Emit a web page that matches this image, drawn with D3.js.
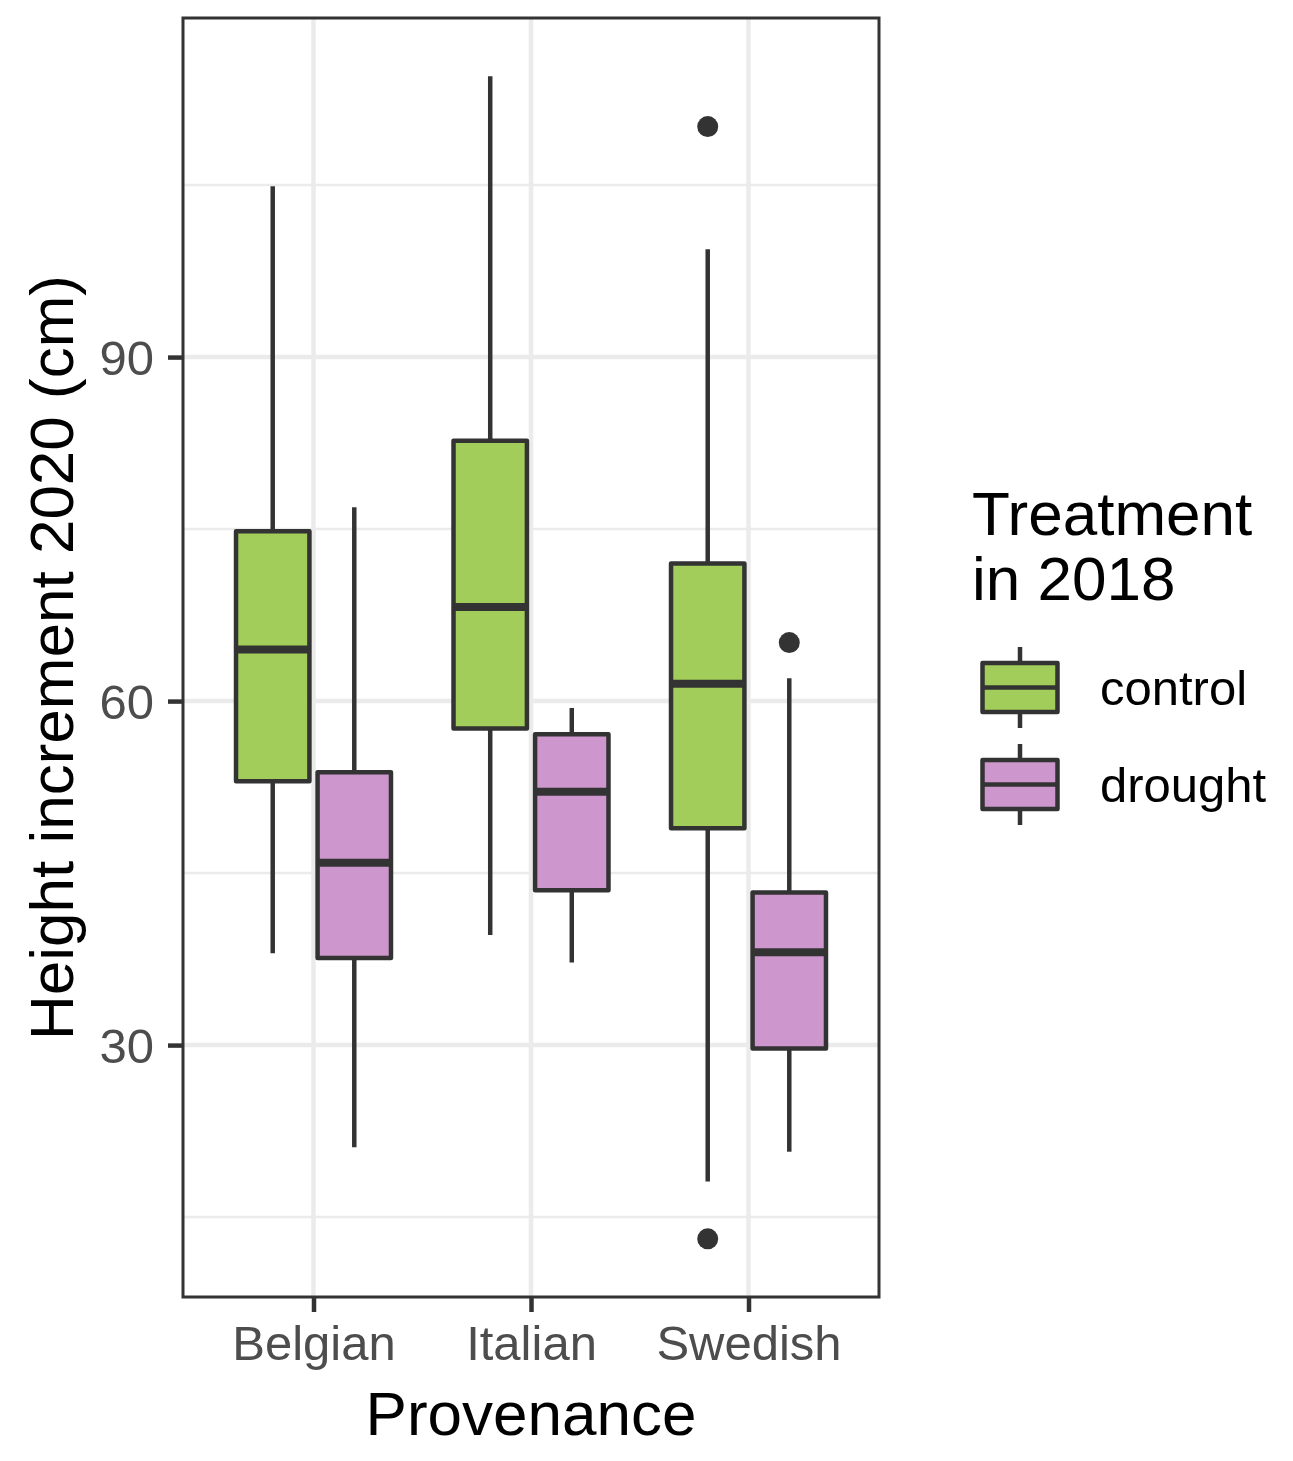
<!DOCTYPE html>
<html>
<head>
<meta charset="utf-8">
<script src="https://cdn.jsdelivr.net/npm/d3@7"></script>
<style>
  body { margin: 0; background: #fff; }
  text { font-family: "Liberation Sans", Arial, sans-serif; }
</style>
</head>
<body>
<div id="chart"></div>
<script>
// Data
var provenances = ["Belgian", "Italian", "Swedish"];
var treatments = ["control", "drought"];

// one entry per box, in order Belgian control, Belgian drought, Italian control ...
var boxProv   = ["Belgian", "Belgian", "Italian", "Italian", "Swedish", "Swedish"];
var boxTreat  = ["control", "drought", "control", "drought", "control", "drought"];
var whiskLow  = [38.0, 21.1, 39.6, 37.2, 18.1, 20.7];
var q1        = [53.0, 37.6, 57.6, 43.5, 48.9, 29.7];
var medians   = [64.5, 45.9, 68.2, 52.1, 61.5, 38.1];
var q3        = [74.8, 53.8, 82.7, 57.1, 72.0, 43.3];
var whiskHigh = [104.9, 76.9, 114.5, 59.4, 99.4, 62.0];

var outlierProv  = ["Swedish", "Swedish", "Swedish"];
var outlierTreat = ["control", "control", "drought"];
var outlierVal   = [110.1, 13.1, 65.1];

var yMajor = [30, 60, 90];
var yMinor = [15, 45, 75, 105];

var fillColors = ["#A2CD5A", "#CD96CD"];

// Layout
var svgWidth = 1293;
var svgHeight = 1461;
var panel = { left: 183, right: 879, top: 18, bottom: 1297 };
var ink = "#333333";

var svg = d3.select("#chart")
  .append("svg")
  .attr("width", svgWidth)
  .attr("height", svgHeight);

// Scales
var allVals = whiskLow.concat(whiskHigh, outlierVal);
var lo = d3.min(allVals), hi = d3.max(allVals);
var pad = (hi - lo) * 0.05;

var yScale = d3.scaleLinear()
  .domain([lo - pad, hi + pad])
  .range([panel.bottom, panel.top]);

var xScale = d3.scalePoint()
  .domain(provenances)
  .range([panel.left, panel.right])
  .padding(0.6);

var step = xScale.step();
var dodge = d3.scaleOrdinal().domain(treatments).range([-0.1875 * step, 0.1875 * step]);
var boxW = 0.3375 * step;
var color = d3.scaleOrdinal().domain(treatments).range(fillColors);

function cx(p, t) { return xScale(p) + dodge(t); }

// Grid
var grid = svg.append("g");
grid.selectAll(".minor")
  .data(yMinor)
  .enter()
  .append("line")
  .attr("x1", panel.left).attr("x2", panel.right)
  .attr("y1", d => yScale(d)).attr("y2", d => yScale(d))
  .attr("stroke", "#EBEBEB")
  .attr("stroke-width", 2.5);

grid.selectAll(".major")
  .data(yMajor)
  .enter()
  .append("line")
  .attr("x1", panel.left).attr("x2", panel.right)
  .attr("y1", d => yScale(d)).attr("y2", d => yScale(d))
  .attr("stroke", "#EBEBEB")
  .attr("stroke-width", 4.5);

grid.selectAll(".vmajor")
  .data(provenances)
  .enter()
  .append("line")
  .attr("y1", panel.top).attr("y2", panel.bottom)
  .attr("x1", d => xScale(d)).attr("x2", d => xScale(d))
  .attr("stroke", "#EBEBEB")
  .attr("stroke-width", 4.5);

// Boxes
var idx = d3.range(boxProv.length);
var boxes = svg.append("g");

boxes.selectAll(".whisk-up")
  .data(idx)
  .enter()
  .append("line")
  .attr("x1", i => cx(boxProv[i], boxTreat[i]))
  .attr("x2", i => cx(boxProv[i], boxTreat[i]))
  .attr("y1", i => yScale(q3[i]))
  .attr("y2", i => yScale(whiskHigh[i]))
  .attr("stroke", ink)
  .attr("stroke-width", 4.5);

boxes.selectAll(".whisk-down")
  .data(idx)
  .enter()
  .append("line")
  .attr("x1", i => cx(boxProv[i], boxTreat[i]))
  .attr("x2", i => cx(boxProv[i], boxTreat[i]))
  .attr("y1", i => yScale(q1[i]))
  .attr("y2", i => yScale(whiskLow[i]))
  .attr("stroke", ink)
  .attr("stroke-width", 4.5);

boxes.selectAll("rect")
  .data(idx)
  .enter()
  .append("rect")
  .attr("x", i => cx(boxProv[i], boxTreat[i]) - boxW / 2)
  .attr("width", boxW)
  .attr("y", i => yScale(q3[i]))
  .attr("height", i => yScale(q1[i]) - yScale(q3[i]))
  .attr("fill", i => color(boxTreat[i]))
  .attr("stroke", ink)
  .attr("stroke-width", 4.5)
  .attr("stroke-linejoin", "round");

boxes.selectAll(".median")
  .data(idx)
  .enter()
  .append("line")
  .attr("x1", i => cx(boxProv[i], boxTreat[i]) - boxW / 2)
  .attr("x2", i => cx(boxProv[i], boxTreat[i]) + boxW / 2)
  .attr("y1", i => yScale(medians[i]))
  .attr("y2", i => yScale(medians[i]))
  .attr("stroke", ink)
  .attr("stroke-width", 8);

boxes.selectAll("circle")
  .data(d3.range(outlierVal.length))
  .enter()
  .append("circle")
  .attr("cx", i => cx(outlierProv[i], outlierTreat[i]))
  .attr("cy", i => yScale(outlierVal[i]))
  .attr("r", 10.5)
  .attr("fill", ink);

// Panel border
svg.append("rect")
  .attr("x", panel.left)
  .attr("y", panel.top)
  .attr("width", panel.right - panel.left)
  .attr("height", panel.bottom - panel.top)
  .attr("fill", "none")
  .attr("stroke", ink)
  .attr("stroke-width", 3);

// Axes
var leftAxis = d3.axisLeft(yScale).tickValues(yMajor).tickSize(15).tickPadding(14);
var bottomAxis = d3.axisBottom(xScale).tickSize(15).tickPadding(12);

var gy = svg.append("g")
  .attr("transform", `translate(${panel.left},0)`)
  .call(leftAxis);
var gx = svg.append("g")
  .attr("transform", `translate(0,${panel.bottom})`)
  .call(bottomAxis);

[gy, gx].forEach(function (g) {
  g.select(".domain").remove();
  g.selectAll(".tick line").attr("stroke", ink).attr("stroke-width", 4.5);
  g.selectAll(".tick text")
    .attr("fill", "#4D4D4D")
    .attr("font-size", "49px")
    .attr("font-family", "Liberation Sans, Arial, sans-serif");
});
gy.selectAll(".tick text").attr("dy", "0.36em");
gx.selectAll(".tick text").attr("dy", "0.74em");

// Axis titles
svg.append("text")
  .attr("x", (panel.left + panel.right) / 2)
  .attr("y", 1435)
  .attr("text-anchor", "middle")
  .attr("font-size", "62px")
  .attr("fill", "#000")
  .text("Provenance");

svg.append("text")
  .attr("transform", `translate(73,${(panel.top + panel.bottom) / 2}) rotate(-90)`)
  .attr("text-anchor", "middle")
  .attr("font-size", "62px")
  .attr("fill", "#000")
  .text("Height increment 2020 (cm)");

// Legend
var legend = svg.append("g");
legend.append("text")
  .attr("x", 972)
  .attr("y", 535)
  .attr("font-size", "62px")
  .attr("fill", "#000")
  .text("Treatment");
legend.append("text")
  .attr("x", 972)
  .attr("y", 600)
  .attr("font-size", "62px")
  .attr("fill", "#000")
  .text("in 2018");

var keyY = d3.scaleBand().domain(treatments).range([639, 833]);
var keyX = 1020, keyW = 75, keyH = 49;

var keys = legend.selectAll(".key")
  .data(treatments)
  .enter()
  .append("g")
  .attr("transform", d => `translate(${keyX},${keyY(d) + keyY.bandwidth() / 2})`);

keys.append("line")
  .attr("x1", 0).attr("x2", 0)
  .attr("y1", -keyY.bandwidth() / 2 + 8).attr("y2", keyY.bandwidth() / 2 - 8)
  .attr("stroke", ink).attr("stroke-width", 4.5);

keys.append("rect")
  .attr("x", -keyW / 2).attr("y", -keyH / 2)
  .attr("width", keyW).attr("height", keyH)
  .attr("fill", d => color(d))
  .attr("stroke", ink).attr("stroke-width", 4.5)
  .attr("stroke-linejoin", "round");

keys.append("line")
  .attr("x1", -keyW / 2).attr("x2", keyW / 2)
  .attr("y1", 0).attr("y2", 0)
  .attr("stroke", ink).attr("stroke-width", 4.5);

keys.append("text")
  .attr("x", 80)
  .attr("y", 0)
  .attr("dy", "0.35em")
  .attr("font-size", "49px")
  .attr("fill", "#000")
  .text(d => d);
</script>
</body>
</html>
